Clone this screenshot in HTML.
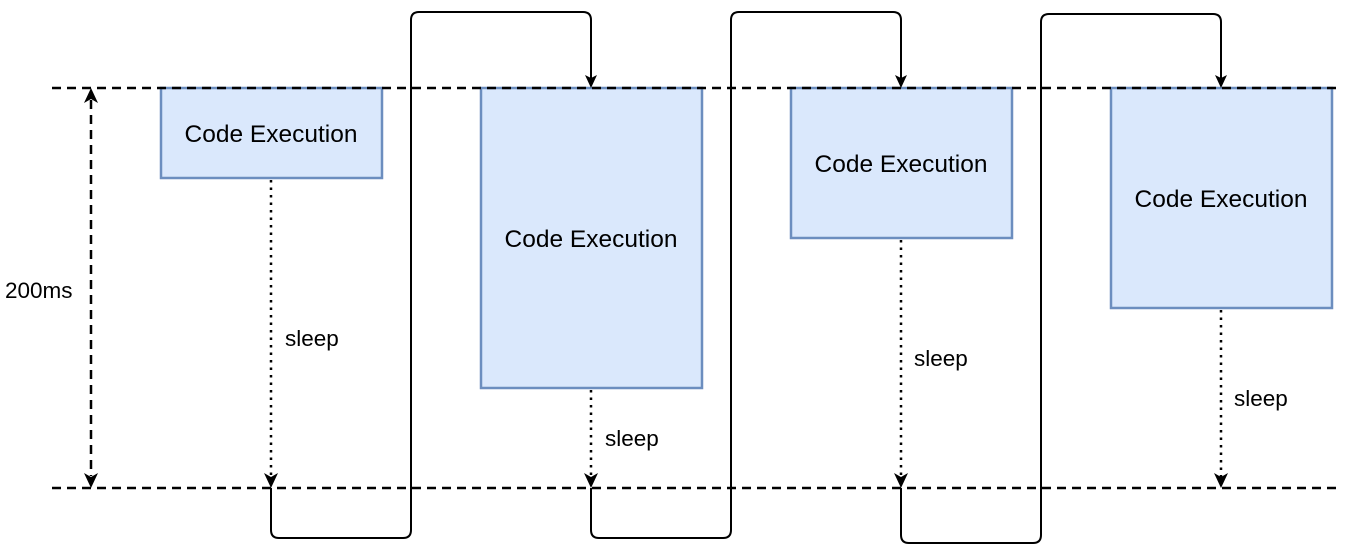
<!DOCTYPE html>
<html><head><style>body{margin:0;background:#fff}</style></head><body>
<svg width="1349" height="552" xmlns="http://www.w3.org/2000/svg" font-family="Liberation Sans, Arial, sans-serif">
<g fill="#dae8fc" stroke="#6c8ebf" stroke-width="2.5">
<rect x="161" y="88" width="221" height="90"/>
<rect x="481" y="88" width="221" height="300"/>
<rect x="791" y="88" width="221" height="150"/>
<rect x="1111" y="88" width="221" height="220"/>
</g>
<g stroke="#000" stroke-width="2.5" stroke-dasharray="9 6" fill="none">
<line x1="52" y1="88" x2="1340" y2="88"/>
<line x1="52" y1="488" x2="1340" y2="488"/>
<line x1="91" y1="100" x2="91" y2="476"/>
</g>
<g stroke="#000" stroke-width="2.5" stroke-dasharray="2.5 5" fill="none">
<line x1="271" y1="180" x2="271" y2="478"/>
<line x1="591" y1="390" x2="591" y2="478"/>
<line x1="901" y1="240" x2="901" y2="478"/>
<line x1="1221" y1="310" x2="1221" y2="478"/>
</g>
<g stroke="#000" stroke-width="2" fill="none">
<path d="M271 488 V530 Q271 538 279 538 H403 Q411 538 411 530 V20 Q411 12 419 12 H583 Q591 12 591 20 V80"/>
<path d="M591 488 V530 Q591 538 599 538 H723 Q731 538 731 530 V20 Q731 12 739 12 H893 Q901 12 901 20 V80"/>
<path d="M901 488 V535 Q901 543 909 543 H1033 Q1041 543 1041 535 V22 Q1041 14 1049 14 H1213 Q1221 14 1221 22 V80"/>
</g>
<g fill="#000">
<path d="M91 88 l-7 15 l7 -4 l7 4z"/>
<path d="M91 488 l-7 -15 l7 4 l7 -4z"/>
<path d="M271 488 l-7 -15 l7 4 l7 -4z"/>
<path d="M591 488 l-7 -15 l7 4 l7 -4z"/>
<path d="M901 488 l-7 -15 l7 4 l7 -4z"/>
<path d="M1221 488 l-7 -15 l7 4 l7 -4z"/>
<path d="M591 88 l-6 -13 l6 3 l6 -3z"/>
<path d="M901 88 l-6 -13 l6 3 l6 -3z"/>
<path d="M1221 88 l-6 -13 l6 3 l6 -3z"/>
</g>
<g font-size="24.5" text-anchor="middle" fill="#000">
<text x="271" y="142">Code Execution</text>
<text x="591" y="247">Code Execution</text>
<text x="901" y="172">Code Execution</text>
<text x="1221" y="207">Code Execution</text>
</g>
<g font-size="22.5" fill="#000">
<text x="285" y="346">sleep</text>
<text x="605" y="446">sleep</text>
<text x="914" y="366">sleep</text>
<text x="1234" y="406">sleep</text>
<text x="5" y="298">200ms</text>
</g>
</svg>
</body></html>
